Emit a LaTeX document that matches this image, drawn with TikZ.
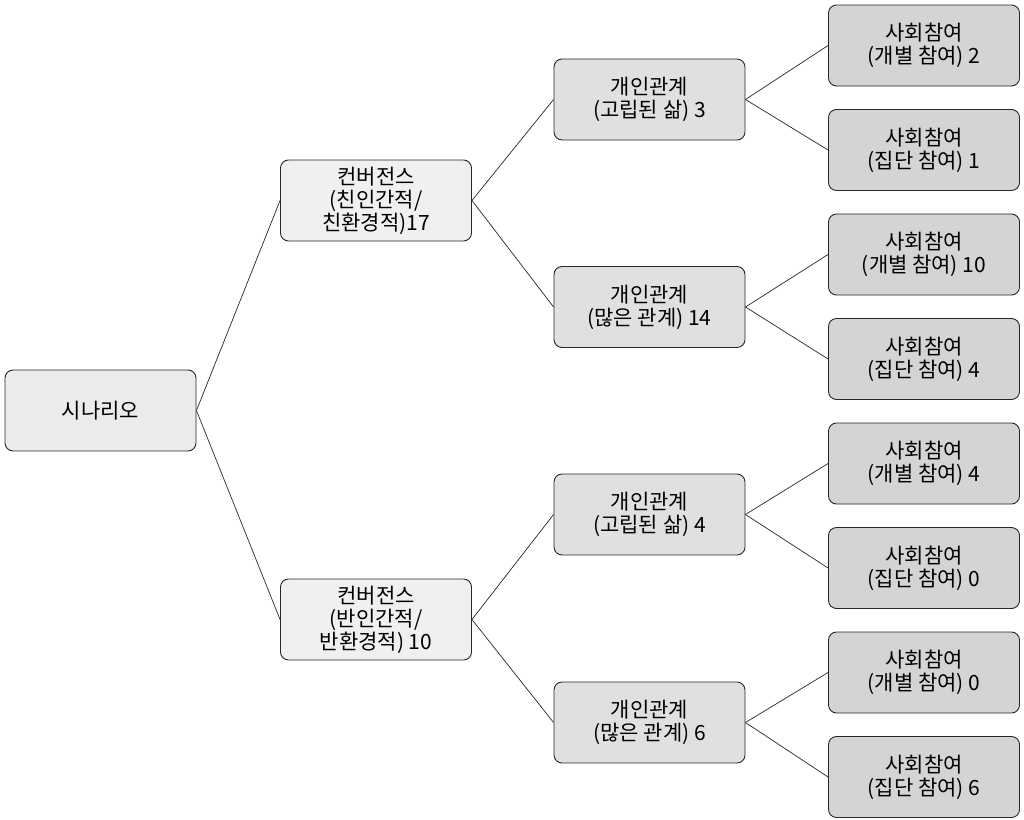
\documentclass[tikz,border=0pt]{standalone}
\usepackage{fontspec}
\setmainfont{Noto Sans CJK KR}
\begin{document}
\begin{tikzpicture}[x=1pt,y=-1pt,
  box/.style={draw=black!85, line width=0.9pt, rounded corners=8pt, minimum width=191pt, minimum height=81pt, align=center, inner sep=2pt, font=\fontsize{21}{23}\selectfont},
  rootbox/.style={box, fill=black!8},
  lonebox/.style={box, fill=black!6},
  ltwobox/.style={box, fill=black!12},
  leafbox/.style={box, fill=black!17},
  conn/.style={draw=black!85, line width=0.7pt}]
\useasboundingbox (0,0) rectangle (1024,819);
\node[rootbox] (r) at (100.5,410.5) {시나리오};
\node[lonebox] (a) at (376,200.5) {컨버전스\\(친인간적/\\친환경적)17};
\node[lonebox] (b) at (376,619.5) {컨버전스\\(반인간적/\\반환경적) 10};
\node[ltwobox] (a1) at (649.5,99.5) {개인관계\\(고립된 삶) 3};
\node[ltwobox] (a2) at (649.5,307) {개인관계\\(많은 관계) 14};
\node[ltwobox] (b1) at (649.5,514.5) {개인관계\\(고립된 삶) 4};
\node[ltwobox] (b2) at (649.5,722.5) {개인관계\\(많은 관계) 6};
\node[leafbox] (l1) at (924,45.5) {사회참여\\(개별 참여) 2};
\node[leafbox] (l2) at (924,150) {사회참여\\(집단 참여) 1};
\node[leafbox] (l3) at (924,254.5) {사회참여\\(개별 참여) 10};
\node[leafbox] (l4) at (924,359) {사회참여\\(집단 참여) 4};
\node[leafbox] (l5) at (924,463.5) {사회참여\\(개별 참여) 4};
\node[leafbox] (l6) at (924,568) {사회참여\\(집단 참여) 0};
\node[leafbox] (l7) at (924,672.5) {사회참여\\(개별 참여) 0};
\node[leafbox] (l8) at (924,777) {사회참여\\(집단 참여) 6};
\draw[conn] (r.east) -- (a.west);
\draw[conn] (r.east) -- (b.west);
\draw[conn] (a.east) -- (a1.west);
\draw[conn] (a.east) -- (a2.west);
\draw[conn] (b.east) -- (b1.west);
\draw[conn] (b.east) -- (b2.west);
\draw[conn] (a1.east) -- (l1.west);
\draw[conn] (a1.east) -- (l2.west);
\draw[conn] (a2.east) -- (l3.west);
\draw[conn] (a2.east) -- (l4.west);
\draw[conn] (b1.east) -- (l5.west);
\draw[conn] (b1.east) -- (l6.west);
\draw[conn] (b2.east) -- (l7.west);
\draw[conn] (b2.east) -- (l8.west);
\end{tikzpicture}
\end{document}
